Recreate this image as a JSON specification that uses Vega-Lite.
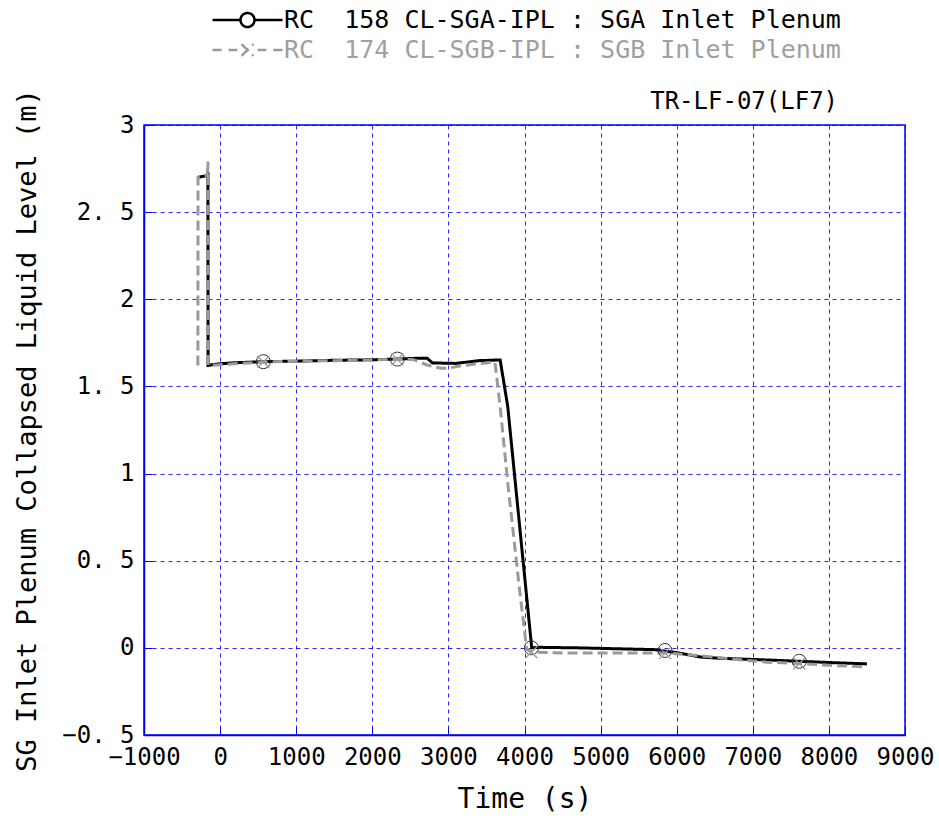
{
  "$schema": "https://vega.github.io/schema/vega-lite/v6.json",
  "width": 761,
  "height": 610,
  "autosize": {"type": "none"},
  "padding": {"left": 144, "top": 125, "right": 34, "bottom": 92},
  "background": "white",
  "config": {
    "font": "DejaVu Sans Mono",
    "view": {"stroke": "#0000ff", "strokeWidth": 1.5},
    "axis": {
      "domainColor": "#0000ff",
      "domainWidth": 1.5,
      "tickColor": "#0000ff",
      "tickSize": -8,
      "tickWidth": 1,
      "gridColor": "#0000ff",
      "gridDash": [4, 4],
      "gridWidth": 1,
      "gridOpacity": 0.85,
      "labelFont": "DejaVu Sans Mono",
      "labelFontSize": 24,
      "labelColor": "#000000",
      "labelOverlap": false,
      "labelFlush": false,
      "labelBound": false,
      "titleFont": "DejaVu Sans Mono",
      "titleFontSize": 27,
      "titleFontWeight": "normal",
      "titleColor": "#000000"
    }
  },
  "datasets": {
    "lines": [
      {"series": "RC  158 CL-SGA-IPL : SGA Inlet Plenum", "t": -290, "level": 2.70},
      {"series": "RC  158 CL-SGA-IPL : SGA Inlet Plenum", "t": -170, "level": 2.71},
      {"series": "RC  158 CL-SGA-IPL : SGA Inlet Plenum", "t": -160, "level": 2.73},
      {"series": "RC  158 CL-SGA-IPL : SGA Inlet Plenum", "t": -158, "level": 1.62},
      {"series": "RC  158 CL-SGA-IPL : SGA Inlet Plenum", "t": -100, "level": 1.625},
      {"series": "RC  158 CL-SGA-IPL : SGA Inlet Plenum", "t": 0, "level": 1.63},
      {"series": "RC  158 CL-SGA-IPL : SGA Inlet Plenum", "t": 200, "level": 1.636},
      {"series": "RC  158 CL-SGA-IPL : SGA Inlet Plenum", "t": 568, "level": 1.642},
      {"series": "RC  158 CL-SGA-IPL : SGA Inlet Plenum", "t": 1000, "level": 1.645},
      {"series": "RC  158 CL-SGA-IPL : SGA Inlet Plenum", "t": 1500, "level": 1.65},
      {"series": "RC  158 CL-SGA-IPL : SGA Inlet Plenum", "t": 2000, "level": 1.653},
      {"series": "RC  158 CL-SGA-IPL : SGA Inlet Plenum", "t": 2329, "level": 1.657},
      {"series": "RC  158 CL-SGA-IPL : SGA Inlet Plenum", "t": 2600, "level": 1.662},
      {"series": "RC  158 CL-SGA-IPL : SGA Inlet Plenum", "t": 2720, "level": 1.662},
      {"series": "RC  158 CL-SGA-IPL : SGA Inlet Plenum", "t": 2790, "level": 1.635},
      {"series": "RC  158 CL-SGA-IPL : SGA Inlet Plenum", "t": 3100, "level": 1.632},
      {"series": "RC  158 CL-SGA-IPL : SGA Inlet Plenum", "t": 3400, "level": 1.648},
      {"series": "RC  158 CL-SGA-IPL : SGA Inlet Plenum", "t": 3680, "level": 1.652},
      {"series": "RC  158 CL-SGA-IPL : SGA Inlet Plenum", "t": 3780, "level": 1.384},
      {"series": "RC  158 CL-SGA-IPL : SGA Inlet Plenum", "t": 4095, "level": 0.0},
      {"series": "RC  158 CL-SGA-IPL : SGA Inlet Plenum", "t": 4200, "level": 0.003},
      {"series": "RC  158 CL-SGA-IPL : SGA Inlet Plenum", "t": 4700, "level": 0.0},
      {"series": "RC  158 CL-SGA-IPL : SGA Inlet Plenum", "t": 5200, "level": -0.005},
      {"series": "RC  158 CL-SGA-IPL : SGA Inlet Plenum", "t": 5700, "level": -0.01},
      {"series": "RC  158 CL-SGA-IPL : SGA Inlet Plenum", "t": 6040, "level": -0.03},
      {"series": "RC  158 CL-SGA-IPL : SGA Inlet Plenum", "t": 6300, "level": -0.052},
      {"series": "RC  158 CL-SGA-IPL : SGA Inlet Plenum", "t": 6570, "level": -0.06},
      {"series": "RC  158 CL-SGA-IPL : SGA Inlet Plenum", "t": 7100, "level": -0.068},
      {"series": "RC  158 CL-SGA-IPL : SGA Inlet Plenum", "t": 7611, "level": -0.077},
      {"series": "RC  158 CL-SGA-IPL : SGA Inlet Plenum", "t": 8000, "level": -0.084},
      {"series": "RC  158 CL-SGA-IPL : SGA Inlet Plenum", "t": 8500, "level": -0.092},
      {"series": "RC  174 CL-SGB-IPL : SGB Inlet Plenum", "t": -292, "level": 1.62},
      {"series": "RC  174 CL-SGB-IPL : SGB Inlet Plenum", "t": -290, "level": 2.70},
      {"series": "RC  174 CL-SGB-IPL : SGB Inlet Plenum", "t": -170, "level": 2.71},
      {"series": "RC  174 CL-SGB-IPL : SGB Inlet Plenum", "t": -160, "level": 2.79},
      {"series": "RC  174 CL-SGB-IPL : SGB Inlet Plenum", "t": -157, "level": 1.62},
      {"series": "RC  174 CL-SGB-IPL : SGB Inlet Plenum", "t": 0, "level": 1.625},
      {"series": "RC  174 CL-SGB-IPL : SGB Inlet Plenum", "t": 568, "level": 1.64},
      {"series": "RC  174 CL-SGB-IPL : SGB Inlet Plenum", "t": 1000, "level": 1.645},
      {"series": "RC  174 CL-SGB-IPL : SGB Inlet Plenum", "t": 1500, "level": 1.648},
      {"series": "RC  174 CL-SGB-IPL : SGB Inlet Plenum", "t": 2000, "level": 1.652},
      {"series": "RC  174 CL-SGB-IPL : SGB Inlet Plenum", "t": 2329, "level": 1.655},
      {"series": "RC  174 CL-SGB-IPL : SGB Inlet Plenum", "t": 2530, "level": 1.655},
      {"series": "RC  174 CL-SGB-IPL : SGB Inlet Plenum", "t": 2720, "level": 1.623},
      {"series": "RC  174 CL-SGB-IPL : SGB Inlet Plenum", "t": 2900, "level": 1.604},
      {"series": "RC  174 CL-SGB-IPL : SGB Inlet Plenum", "t": 3000, "level": 1.605},
      {"series": "RC  174 CL-SGB-IPL : SGB Inlet Plenum", "t": 3190, "level": 1.62},
      {"series": "RC  174 CL-SGB-IPL : SGB Inlet Plenum", "t": 3550, "level": 1.637},
      {"series": "RC  174 CL-SGB-IPL : SGB Inlet Plenum", "t": 3612, "level": 1.64},
      {"series": "RC  174 CL-SGB-IPL : SGB Inlet Plenum", "t": 3680, "level": 1.384},
      {"series": "RC  174 CL-SGB-IPL : SGB Inlet Plenum", "t": 3790, "level": 0.906},
      {"series": "RC  174 CL-SGB-IPL : SGB Inlet Plenum", "t": 3940, "level": 0.315},
      {"series": "RC  174 CL-SGB-IPL : SGB Inlet Plenum", "t": 4030, "level": -0.01},
      {"series": "RC  174 CL-SGB-IPL : SGB Inlet Plenum", "t": 4100, "level": -0.025},
      {"series": "RC  174 CL-SGB-IPL : SGB Inlet Plenum", "t": 4600, "level": -0.03},
      {"series": "RC  174 CL-SGB-IPL : SGB Inlet Plenum", "t": 5200, "level": -0.03},
      {"series": "RC  174 CL-SGB-IPL : SGB Inlet Plenum", "t": 5900, "level": -0.03},
      {"series": "RC  174 CL-SGB-IPL : SGB Inlet Plenum", "t": 6300, "level": -0.045},
      {"series": "RC  174 CL-SGB-IPL : SGB Inlet Plenum", "t": 6750, "level": -0.065},
      {"series": "RC  174 CL-SGB-IPL : SGB Inlet Plenum", "t": 7180, "level": -0.082},
      {"series": "RC  174 CL-SGB-IPL : SGB Inlet Plenum", "t": 7611, "level": -0.09},
      {"series": "RC  174 CL-SGB-IPL : SGB Inlet Plenum", "t": 8000, "level": -0.1},
      {"series": "RC  174 CL-SGB-IPL : SGB Inlet Plenum", "t": 8500, "level": -0.11}
    ],
    "markers": [
      {"series": "A", "t": 568, "level": 1.642},
      {"series": "A", "t": 2329, "level": 1.657},
      {"series": "A", "t": 4090, "level": 0.0},
      {"series": "A", "t": 5846, "level": -0.015},
      {"series": "A", "t": 7611, "level": -0.077},
      {"series": "B", "t": 568, "level": 1.64},
      {"series": "B", "t": 2329, "level": 1.655},
      {"series": "B", "t": 4090, "level": -0.025},
      {"series": "B", "t": 5846, "level": -0.03},
      {"series": "B", "t": 7611, "level": -0.09}
    ]
  },
  "layer": [
    {
      "data": {"name": "lines"},
      "mark": {"type": "line", "strokeWidth": 3, "clip": true},
      "encoding": {
        "x": {
          "field": "t", "type": "quantitative",
          "scale": {"domain": [-1000, 9000], "nice": false, "zero": false},
          "axis": {"title": "Time (s)", "titleFontSize": 28, "values": [-1000, 0, 1000, 2000, 3000, 4000, 5000, 6000, 7000, 8000, 9000], "format": "d", "labelPadding": 18, "titlePadding": 16}
        },
        "y": {
          "field": "level", "type": "quantitative",
          "scale": {"domain": [-0.5, 3], "nice": false, "zero": false},
          "axis": {"title": "SG Inlet Plenum Collapsed Liquid Level (m)", "values": [-0.5, 0, 0.5, 1, 1.5, 2, 2.5, 3], "labelExpr": "datum.value % 1 == 0 ? format(datum.value, 'd') : replace(format(datum.value, '.1f'), '.', '. ')", "labelPadding": 18, "titlePadding": 20}
        },
        "color": {
          "field": "series",
          "type": "nominal",
          "scale": {
            "domain": ["RC  158 CL-SGA-IPL : SGA Inlet Plenum", "RC  174 CL-SGB-IPL : SGB Inlet Plenum"],
            "range": ["#000000", "#9a9a9a"]
          },
          "legend": {
            "title": null,
            "orient": "none",
            "legendX": 67,
            "legendY": -120,
            "symbolSize": 4900,
            "symbolStrokeWidth": 2.5,
            "symbolType": "M-1,0H-0.2M0.2,0H1M0.2,0A0.2,0.2 0 1,1 -0.2,0A0.2,0.2 0 1,1 0.2,0",
            "clipHeight": 30,
            "rowPadding": 0,
            "labelFont": "DejaVu Sans Mono",
            "labelFontSize": 25,
            "labelLimit": 800,
            "labelOffset": 0,
            "labelExpr": "replace(datum.label, 'RC ', 'RC\u00a0')",
            "encode": {
              "symbols": {
                "update": {
                  "shape": {"signal": "datum.value == 'RC  174 CL-SGB-IPL : SGB Inlet Plenum' ? 'M-1,0H-0.74M-0.54,0H-0.29M0.29,0H0.54M0.74,0H1M-0.17,-0.17L0.17,0.17M-0.17,0.17L0.17,-0.17' : 'M-1,0H-0.2M0.2,0H1M0.2,0A0.2,0.2 0 1,1 -0.2,0A0.2,0.2 0 1,1 0.2,0'"},
                  "fill": {"value": "transparent"},
                  "strokeDash": {"value": [1, 0]}
                }
              },
              "labels": {
                "update": {
                  "fill": {"signal": "datum.value == 'RC  174 CL-SGB-IPL : SGB Inlet Plenum' ? '#a0a0a0' : '#000000'"}
                }
              }
            }
          }
        },
        "strokeDash": {
          "field": "series",
          "type": "nominal",
          "scale": {
            "domain": ["RC  158 CL-SGA-IPL : SGA Inlet Plenum", "RC  174 CL-SGB-IPL : SGB Inlet Plenum"],
            "range": [[1, 0], [10, 5]]
          },
          "legend": null
        }
      }
    },
    {
      "data": {"name": "markers"},
      "transform": [{"filter": "datum.series == 'A'"}],
      "mark": {"type": "point", "shape": "circle", "filled": false, "size": 196, "strokeWidth": 1, "color": "#333333", "opacity": 1},
      "encoding": {
        "x": {
          "field": "t", "type": "quantitative",
          "scale": {"domain": [-1000, 9000], "nice": false, "zero": false},
          "axis": {"title": "Time (s)", "titleFontSize": 28, "values": [-1000, 0, 1000, 2000, 3000, 4000, 5000, 6000, 7000, 8000, 9000], "format": "d", "labelPadding": 18, "titlePadding": 16}
        },
        "y": {
          "field": "level", "type": "quantitative",
          "scale": {"domain": [-0.5, 3], "nice": false, "zero": false},
          "axis": {"title": "SG Inlet Plenum Collapsed Liquid Level (m)", "values": [-0.5, 0, 0.5, 1, 1.5, 2, 2.5, 3], "labelExpr": "datum.value % 1 == 0 ? format(datum.value, 'd') : replace(format(datum.value, '.1f'), '.', '. ')", "labelPadding": 18, "titlePadding": 20}
        }
      }
    },
    {
      "data": {"name": "markers"},
      "transform": [{"filter": "datum.series == 'B'"}],
      "mark": {"type": "point", "shape": "M-1,-1L1,1M-1,1L1,-1", "filled": false, "size": 144, "strokeWidth": 1.2, "color": "#9a9a9a", "opacity": 1},
      "encoding": {
        "x": {
          "field": "t", "type": "quantitative",
          "scale": {"domain": [-1000, 9000], "nice": false, "zero": false},
          "axis": {"title": "Time (s)", "titleFontSize": 28, "values": [-1000, 0, 1000, 2000, 3000, 4000, 5000, 6000, 7000, 8000, 9000], "format": "d", "labelPadding": 18, "titlePadding": 16}
        },
        "y": {
          "field": "level", "type": "quantitative",
          "scale": {"domain": [-0.5, 3], "nice": false, "zero": false},
          "axis": {"title": "SG Inlet Plenum Collapsed Liquid Level (m)", "values": [-0.5, 0, 0.5, 1, 1.5, 2, 2.5, 3], "labelExpr": "datum.value % 1 == 0 ? format(datum.value, 'd') : replace(format(datum.value, '.1f'), '.', '. ')", "labelPadding": 18, "titlePadding": 20}
        }
      }
    },
    {
      "data": {"values": [{"label": "TR-LF-07(LF7)"}]},
      "mark": {"type": "text", "align": "right", "baseline": "bottom", "dy": -11, "fontSize": 24, "font": "DejaVu Sans Mono", "color": "#000000"},
      "encoding": {
        "x": {
          "datum": 8120, "type": "quantitative",
          "scale": {"domain": [-1000, 9000], "nice": false, "zero": false},
          "axis": {"title": "Time (s)", "titleFontSize": 28, "values": [-1000, 0, 1000, 2000, 3000, 4000, 5000, 6000, 7000, 8000, 9000], "format": "d", "labelPadding": 18, "titlePadding": 16}
        },
        "y": {
          "datum": 3, "type": "quantitative",
          "scale": {"domain": [-0.5, 3], "nice": false, "zero": false},
          "axis": {"title": "SG Inlet Plenum Collapsed Liquid Level (m)", "values": [-0.5, 0, 0.5, 1, 1.5, 2, 2.5, 3], "labelExpr": "datum.value % 1 == 0 ? format(datum.value, 'd') : replace(format(datum.value, '.1f'), '.', '. ')", "labelPadding": 18, "titlePadding": 20}
        },
        "text": {"field": "label", "type": "nominal"}
      }
    }
  ]
}
